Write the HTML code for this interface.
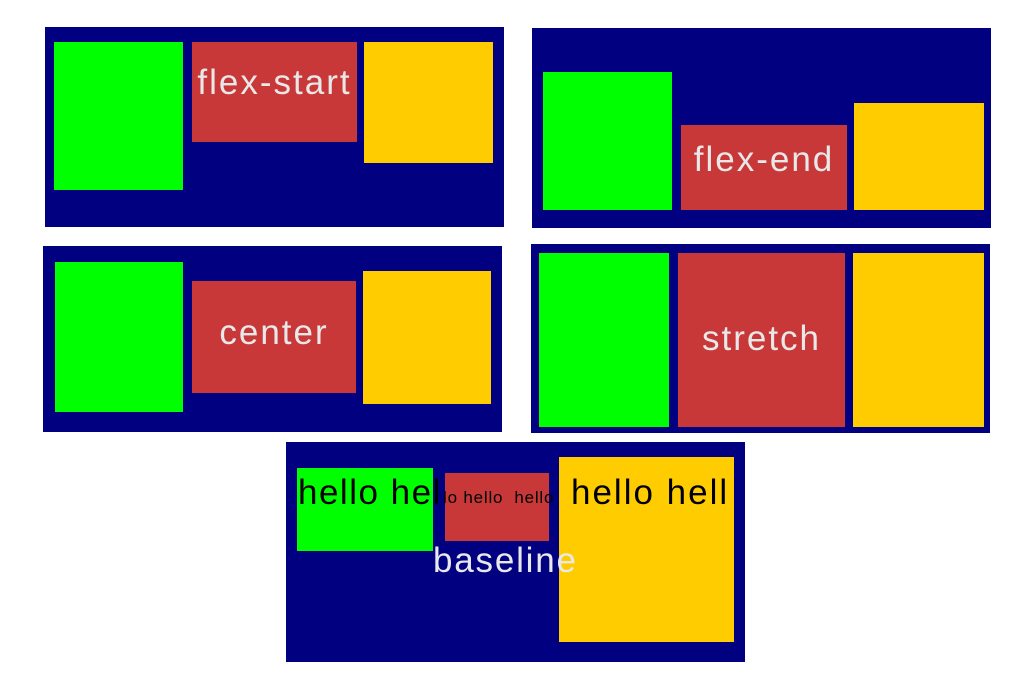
<!DOCTYPE html>
<html><head><style>
body{margin:0;width:1035px;height:690px;background:#fff;position:relative;overflow:hidden;font-family:"Liberation Sans",sans-serif}
div{position:absolute;box-sizing:border-box}
.p{background:#000080}
.g{background:#00ff00}
.r{background:#c83838}
.y{background:#ffcc00}
.t{color:#e8e8e8;font-size:35px;letter-spacing:2px;display:flex;align-items:center;justify-content:center;white-space:nowrap}
.k{color:#000;white-space:nowrap;line-height:1}
</style></head><body>
<div class="p" style="left:45px;top:27px;width:459px;height:200px"></div>
<div class="g" style="left:54px;top:42px;width:129px;height:148px"></div>
<div class="r t" style="left:192px;top:42px;width:165px;height:100px;align-items:flex-start;padding-top:21px">flex-start</div>
<div class="y" style="left:364px;top:42px;width:129px;height:121px"></div>

<div class="p" style="left:532px;top:28px;width:459px;height:200px"></div>
<div class="g" style="left:543px;top:72px;width:129px;height:138px"></div>
<div class="r t" style="left:681px;top:125px;width:166px;height:85px;align-items:flex-start;padding-top:15px">flex-end</div>
<div class="y" style="left:854px;top:103px;width:130px;height:107px"></div>

<div class="p" style="left:43px;top:246px;width:459px;height:186px"></div>
<div class="g" style="left:55px;top:262px;width:128px;height:150px"></div>
<div class="r t" style="left:192px;top:281px;width:164px;height:112px;align-items:flex-start;padding-top:32px">center</div>
<div class="y" style="left:363px;top:271px;width:128px;height:133px"></div>

<div class="p" style="left:531px;top:244px;width:459px;height:189px"></div>
<div class="g" style="left:539px;top:253px;width:130px;height:174px"></div>
<div class="r t" style="left:678px;top:253px;width:167px;height:174px;align-items:flex-start;padding-top:66px">stretch</div>
<div class="y" style="left:853px;top:253px;width:131px;height:174px"></div>

<div class="p" style="left:286px;top:442px;width:459px;height:220px"></div>
<div class="g" style="left:297px;top:468px;width:136px;height:83px"></div>
<div class="r" style="left:445px;top:473px;width:104px;height:68px"></div>
<div class="y" style="left:559px;top:457px;width:175px;height:185px"></div>
<div class="k" style="left:298px;top:475px;font-size:35px;letter-spacing:1.5px">hello hel</div>
<div class="k" style="left:443px;top:489px;font-size:17px;letter-spacing:0.8px">lo hello&nbsp; hello</div>
<div class="k" style="left:571px;top:475px;font-size:35px;letter-spacing:2px">hello hell</div>
<div style="left:433px;top:543px;color:#e8e8e8;font-size:35px;letter-spacing:1.8px;white-space:nowrap;line-height:1">baseline</div>
</body></html>
